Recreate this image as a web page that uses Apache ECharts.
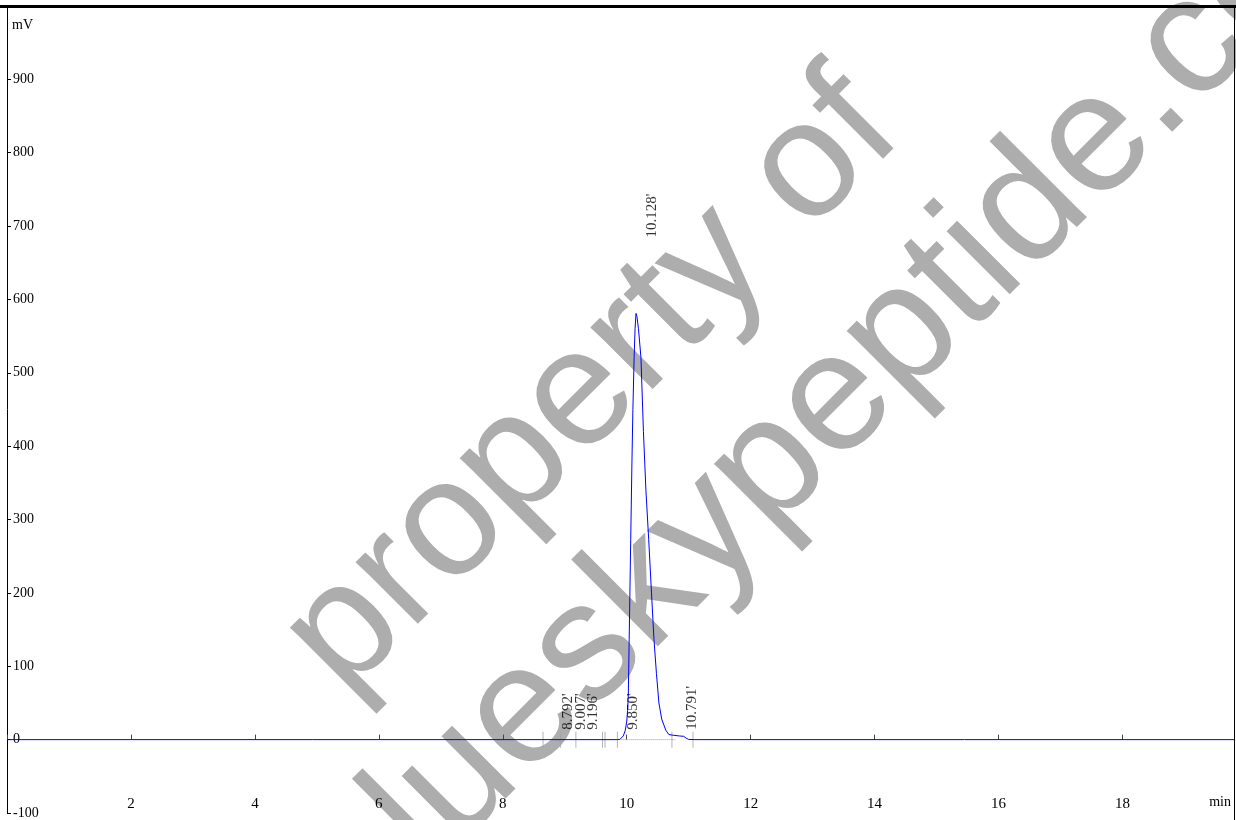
<!DOCTYPE html>
<html><head><meta charset="utf-8">
<script src="https://cdn.jsdelivr.net/npm/echarts@6/dist/echarts.min.js"></script>
<style>html,body{margin:0;padding:0;background:#fff}#c{width:1236px;height:820px}</style>
</head><body><div id="c"></div>
<script>
// Chromatogram trace (min, mV)
const traceTime = [0, 9.85, 9.89, 9.92, 9.945, 9.975, 10.00, 10.015, 10.026, 10.04, 10.065, 10.085, 10.10, 10.12, 10.135, 10.15, 10.165, 10.19, 10.23, 10.27, 10.31, 10.355, 10.40, 10.44, 10.48, 10.52, 10.565, 10.63, 10.68, 10.75, 10.85, 10.92, 10.96, 11.00, 11.10, 19.8];
const traceMV   = [0, 0, 0.3, 2, 5, 12, 24, 40, 60, 137, 273, 380, 450, 521, 560, 581, 577, 560, 521, 420, 340, 273, 200, 137, 90, 50, 28, 13, 7, 6, 5, 4.5, 2, 0.3, 0, 0];
// Integration event marks on the baseline (min)
const eventTimes = [8.65, 8.93, 9.18, 9.61, 9.65, 9.85, 10.73, 11.07];
// Peak retention-time labels
const peakRT     = [8.792, 9.007, 9.196, 9.850, 10.128, 10.791];
const peakText   = ["8.792'", "9.007'", "9.196'", "9.850'", "10.128'", "10.791'"];
const peakHeight = [0, 0, 0, 0, 581, 0];
// Integration baseline under the main peak
const baseStart = 9.85, baseEnd = 10.79;
// Axis settings
const xMin = 0, xMax = 19.8, xStep = 2;
const yMin = -100, yMax = 1000, yStep = 100;
const yUnit = 'mV', xUnit = 'min';
const watermark = ['property of', 'blueskypeptide.com'];

const serif = 'Liberation Serif, Times New Roman, serif';
const chart = echarts.init(document.getElementById('c'), null, {renderer: 'canvas'});

const labelData = peakRT.map((t, i) => {
  const big = peakHeight[i] > 100;
  return {
    value: [t, peakHeight[i]],
    label: { formatter: peakText[i], offset: big ? [76, 17] : [10, 16] }
  };
});

const option = {
  animation: false,
  backgroundColor: '#fff',
  grid: { left: 7, right: 2, top: 6, bottom: 6, containLabel: false },
  xAxis: [
    { type: 'value', min: xMin, max: xMax, interval: xStep,
      axisLine: { show: false, onZero: true },
      axisTick: { show: true, inside: true, length: 5, lineStyle: { color: '#444', width: 1 } },
      axisLabel: { show: false }, splitLine: { show: false } },
    { type: 'value', position: 'bottom', min: xMin, max: xMax, interval: xStep,
      axisLine: { show: false, onZero: false }, axisTick: { show: false },
      axisLabel: { inside: true, margin: 1, fontFamily: serif, fontSize: 15, color: '#000',
                   showMinLabel: false, showMaxLabel: false },
      splitLine: { show: false } }
  ],
  yAxis: { type: 'value', min: yMin, max: yMax, interval: yStep,
    axisLine: { show: true, onZero: false, lineStyle: { color: '#000', width: 1 } },
    axisTick: { show: true, inside: true, length: 4, lineStyle: { color: '#000', width: 1 } },
    axisLabel: { inside: true, margin: 6, fontFamily: serif, fontSize: 14, color: '#000',
                 showMaxLabel: false },
    splitLine: { show: false } },
  graphic: [
    { type: 'text', z: -10, x: 312, y: 665, rotation: Math.PI / 4,
      style: { text: watermark[0], font: '166px "Liberation Sans", Arial, sans-serif', fill: '#adadad', align: 'left', verticalAlign: 'middle' } },
    { type: 'text', z: -10, x: 331, y: 907, rotation: Math.PI / 4,
      style: { text: watermark[1], font: '169px "Liberation Sans", Arial, sans-serif', fill: '#adadad', align: 'left', verticalAlign: 'middle' } },
    { type: 'line', z: 10, shape: { x1: 0, y1: 6.5, x2: 1236, y2: 6.5 }, style: { stroke: '#000', lineWidth: 3 } },
    { type: 'line', z: 10, shape: { x1: 1234.5, y1: 6, x2: 1234.5, y2: 820 }, style: { stroke: '#000', lineWidth: 1 } },
    { type: 'text', z: 10, x: 12, y: 25, style: { text: yUnit, font: '14px ' + serif, fill: '#000', verticalAlign: 'middle' } },
    { type: 'text', z: 10, x: 1231, y: 802, style: { text: xUnit, font: '14px ' + serif, fill: '#000', align: 'right', verticalAlign: 'middle' } }
  ],
  series: [
    { type: 'line', name: 'baseline', xAxisIndex: 0, data: [[baseStart, 0], [baseEnd, 0]],
      showSymbol: false, silent: true, z: 1,
      lineStyle: { color: '#999', width: 1, type: 'dotted' } },
    { type: 'scatter', name: 'events', xAxisIndex: 0, data: eventTimes.map(t => [t, 0]),
      symbol: 'rect', symbolSize: [1, 16], itemStyle: { color: '#a0a0a0' }, z: 1, silent: true },
    { type: 'line', name: 'trace', xAxisIndex: 0, data: traceTime.map((t, i) => [t, traceMV[i]]),
      showSymbol: false, smooth: false, z: 3,
      lineStyle: { color: '#0000ff', width: 1 } },
    { type: 'scatter', name: 'peaks', xAxisIndex: 0, data: labelData, symbolSize: 1,
      itemStyle: { color: 'rgba(0,0,0,0)' }, z: 4, silent: true,
      label: { show: true, position: 'inside', rotate: 90, align: 'left', verticalAlign: 'middle',
               fontFamily: serif, fontSize: 15, color: '#000' } }
  ]
};
chart.setOption(option);
</script></body></html>
